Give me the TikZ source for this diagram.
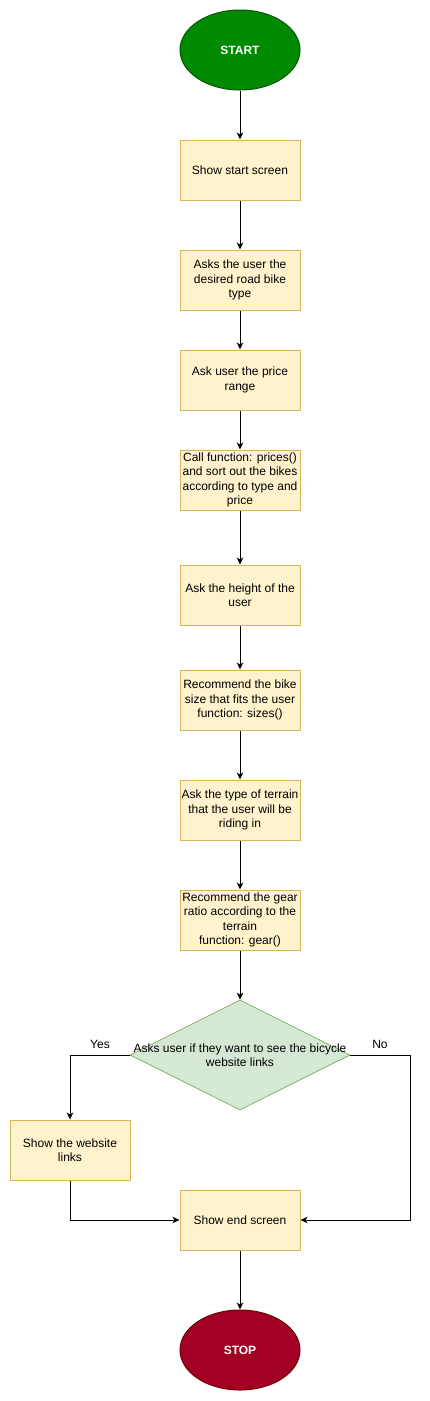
\documentclass[tikz,border=0pt]{standalone}
\usepackage{fontspec}
\setmainfont{Liberation Sans}
\usepackage{xcolor}
\usetikzlibrary{arrows.meta, positioning, shapes.geometric, calc}
\definecolor{boxfill}{HTML}{FFF2CC}
\definecolor{boxline}{HTML}{D6B656}
\definecolor{askfill}{HTML}{D5E8D4}
\definecolor{askline}{HTML}{82B366}
\definecolor{startfill}{HTML}{008A00}
\definecolor{startline}{HTML}{005700}
\definecolor{stopfill}{HTML}{A20025}
\definecolor{stopline}{HTML}{6F0000}

\begin{document}
\begin{tikzpicture}[x=1pt, y=-1pt,
    font=\fontsize{12}{14.4}\selectfont,
    process/.style={rectangle, draw=boxline, fill=boxfill, line width=1pt,
      minimum width=120pt, minimum height=60pt, inner sep=0pt, align=center},
    terminal/.style={ellipse, line width=1pt, minimum width=120pt,
      minimum height=80pt, inner sep=0pt, text=white, font=\fontsize{12}{14.4}\selectfont\bfseries},
    decision/.style={diamond, draw=askline, fill=askfill, line width=0.8pt,
      minimum width=220pt, minimum height=110pt, inner sep=0pt},
    flow/.style={-{Stealth[length=7pt, width=6.5pt, inset=2pt]}, line width=1pt}]
  \useasboundingbox (0,0) rectangle (430,1401);

  % Main column
  \node[terminal, draw=startline, fill=startfill] (start) at (240,50) {START};
  \node[process] (intro)  at (240,170) {Show start screen};
  \node[process] (type)   at (240,280) {Asks the user the\\desired road bike\\type};
  \node[process] (price)  at (240,380) {Ask user the price\\range};
  \node[process] (sort)   at (240,480) {Call function: prices()\\and sort out the bikes\\according to type and\\price};
  \node[process] (height) at (240,595) {Ask the height of the\\user};
  \node[process] (size)   at (240,700) {Recommend the bike\\size that fits the user\\function: sizes()};
  \node[process] (ground) at (240,810) {Ask the type of terrain\\that the user will be\\riding in};
  \node[process] (gear)   at (240,920) {Recommend the gear\\ratio according to the\\terrain\\function: gear()};

  % Question
  \node[decision] (links) at (240,1055) {};
  \node[align=center, inner sep=0pt] (linkstext) at (240,1055)
    {Asks user if they want to see the bicycle\\website links};

  % Branches
  \node[process] (web)  at (70,1150) {Show the website\\links};
  \node[process] (end)  at (240,1220) {Show end screen};
  \node[terminal, draw=stopline, fill=stopfill] (stop) at (240,1350) {STOP};

  \foreach \a/\b in {start/intro, intro/type, type/price, price/sort,
      sort/height, height/size, size/ground, ground/gear, gear/links, end/stop}
    \draw[flow] (\a) -- (\b);

  \draw[flow] (links.west) -| (web.north);
  \draw[flow] (web.south) |- (end.west);
  \draw[flow] (links.east) -- (410,1055) |- (end.east);

  \node (yes) at (100,1044) {Yes};
  \node (no)  at (380,1044) {No};
\end{tikzpicture}
\end{document}
